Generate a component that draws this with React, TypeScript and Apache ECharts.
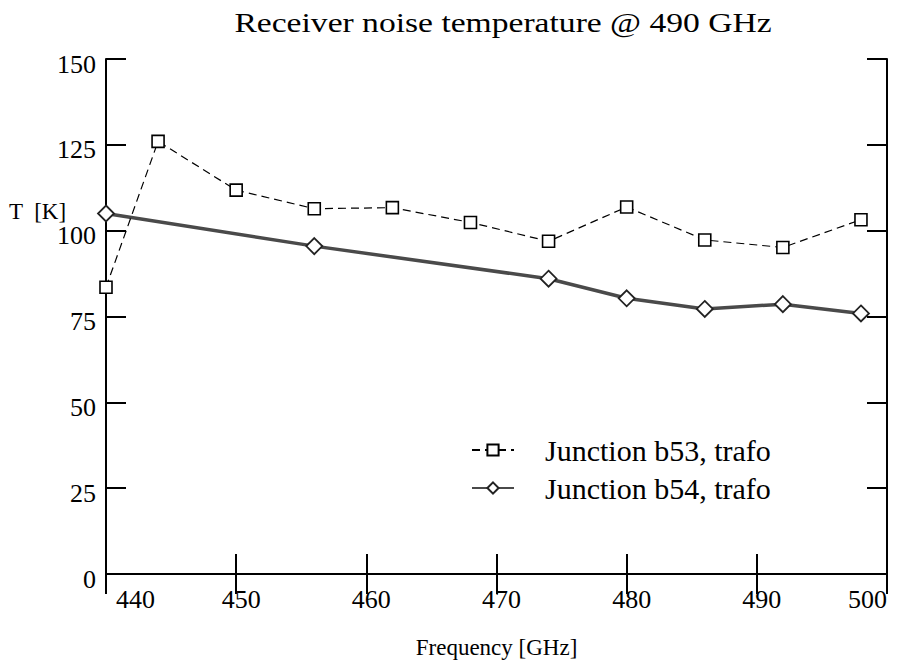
import React, { useEffect, useRef } from "react";
import * as echarts from "echarts";

const FONT = "'Liberation Serif', 'Times New Roman', serif";

const titleText = "Receiver noise temperature @ 490 GHz";
const xAxisName = "Frequency [GHz]";
const yAxisName = "T  [K]";

const seriesNames = ["Junction b53, trafo", "Junction b54, trafo"];

const b53Freq = [440, 444, 450, 456, 462, 468, 474, 480, 486, 492, 498];
const b53Temp = [83.5, 126, 111.8, 106.4, 106.7, 102.4, 96.9, 106.9, 97.3, 95.1, 103.2];

const b54Freq = [440, 456, 474, 480, 486, 492, 498];
const b54Temp = [105, 95.5, 86, 80.3, 77.2, 78.6, 75.9];

const xMin = 440;
const xMax = 500;
const xStep = 10;
const yMin = 0;
const yMax = 150;
const yStep = 25;

function pairs(xs: number[], ys: number[]) {
  return xs.map((x, i) => [x, ys[i]]);
}

export default function App() {
  const ref = useRef<HTMLDivElement>(null);

  useEffect(() => {
    document.body.style.margin = "0";
    if (!ref.current) return;
    const chart = echarts.init(ref.current, undefined, { renderer: "svg" });

    const axisLine = { show: true, lineStyle: { color: "#000", width: 2 } };
    const tick = { show: true, inside: true, length: 20, lineStyle: { color: "#000", width: 2 } };

    chart.setOption({
      animation: false,
      backgroundColor: "#fff",
      grid: { left: 106, right: 10, top: 59, bottom: 81, containLabel: false },
      graphic: [
        {
          type: "text",
          x: 503,
          y: 22,
          scaleX: 1.2,
          style: {
            text: titleText,
            font: `28px ${FONT}`,
            fill: "#000",
            textAlign: "center",
            textVerticalAlign: "middle",
          },
        },
        {
          type: "text",
          x: 9,
          y: 211,
          style: {
            text: yAxisName,
            font: `23px ${FONT}`,
            fill: "#000",
            textAlign: "left",
            textVerticalAlign: "middle",
          },
        },
      ],
      legend: {
        orient: "vertical",
        left: 466,
        top: 430,
        itemWidth: 42,
        itemHeight: 14,
        itemGap: 8,
        data: seriesNames,
        textStyle: {
          fontFamily: FONT,
          fontSize: 30,
          color: "#000",
          padding: [0, 0, 0, 26],
        },
      },
      xAxis: [
        {
          type: "value",
          position: "bottom",
          min: xMin,
          max: xMax,
          interval: xStep,
          name: xAxisName,
          nameLocation: "middle",
          nameGap: 62,
          nameTextStyle: { fontFamily: FONT, fontSize: 23, color: "#000" },
          axisLine,
          axisTick: tick,
          splitLine: { show: false },
          axisLabel: {
            fontFamily: FONT,
            fontSize: 26,
            color: "#000",
            margin: 12,
            alignMinLabel: "left",
            alignMaxLabel: "right",
            padding: [0, 0, 0, 10],
          },
        },
        {
          type: "value",
          position: "top",
          min: xMin,
          max: xMax,
          interval: xStep,
          axisLine,
          axisTick: tick,
          splitLine: { show: false },
          axisLabel: { show: false },
        },
      ],
      yAxis: [
        {
          type: "value",
          position: "left",
          min: yMin,
          max: yMax,
          interval: yStep,
          axisLine,
          axisTick: tick,
          splitLine: { show: false },
          axisLabel: {
            color: "#000",
            margin: 10,
            formatter: "{v|{value}}",
            rich: {
              v: {
                fontFamily: FONT,
                fontSize: 26,
                color: "#000",
                padding: [10, 0, 0, 0],
              },
            },
          },
        },
        {
          type: "value",
          position: "right",
          min: yMin,
          max: yMax,
          interval: yStep,
          axisLine,
          axisTick: tick,
          splitLine: { show: false },
          axisLabel: { show: false },
        },
      ],
      series: [
        {
          name: seriesNames[0],
          type: "line",
          data: pairs(b53Freq, b53Temp),
          symbol: "rect",
          symbolSize: 12,
          showAllSymbol: true,
          lineStyle: { color: "#000", width: 1.2, type: [8, 5] },
          itemStyle: { color: "#fff", borderColor: "#000", borderWidth: 1.6 },
          z: 3,
        },
        {
          name: seriesNames[1],
          type: "line",
          data: pairs(b54Freq, b54Temp),
          symbol: "diamond",
          symbolSize: 16,
          showAllSymbol: true,
          lineStyle: { color: "#4a4a4a", width: 3.5 },
          itemStyle: { color: "#fff", borderColor: "#222", borderWidth: 1.8 },
          z: 2,
        },
      ],
    });

    return () => chart.dispose();
  }, []);

  return <div ref={ref} style={{ width: 897, height: 664 }} />;
}
